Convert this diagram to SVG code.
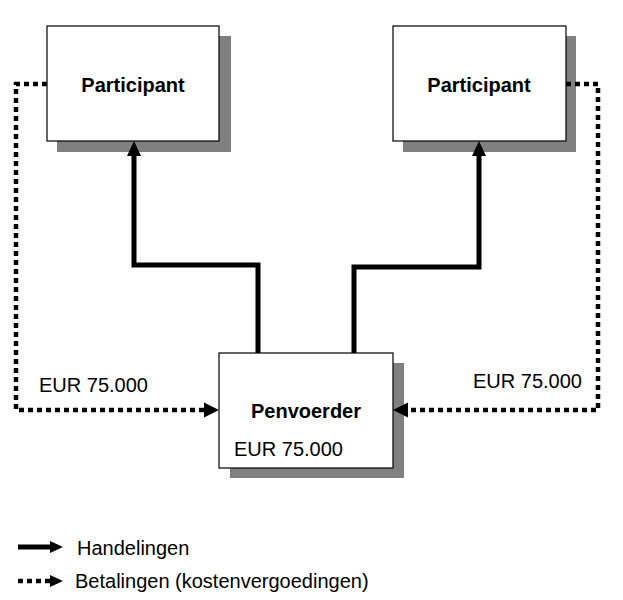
<svg xmlns="http://www.w3.org/2000/svg" width="623" height="600" viewBox="0 0 623 600">
<style>
.box{fill:#fff;stroke:#000;stroke-width:1.2}
.shadow{fill:#808080}
.bold{font-family:"Liberation Sans",Arial,sans-serif;font-weight:bold;font-size:20px;fill:#000}
.reg{font-family:"Liberation Sans",Arial,sans-serif;font-size:20px;fill:#000}
.solid{fill:none;stroke:#000;stroke-width:5;stroke-linejoin:miter}
.dot{fill:none;stroke:#000;stroke-width:4.5;stroke-dasharray:5 4}
</style>
<defs>
<marker id="ah" viewBox="0 0 10 10" refX="10" refY="5" markerWidth="15" markerHeight="15" markerUnits="userSpaceOnUse" orient="auto">
<path d="M0,0 L10,5 L0,10 Z" fill="#000"/>
</marker>
</defs>
<rect width="623" height="600" fill="#fff"/>
<g id="participant-left">
<rect class="shadow" x="57" y="36" width="174" height="116"/>
<rect class="box" x="47" y="26" width="172" height="115"/>
<text class="bold" x="133" y="92" text-anchor="middle">Participant</text>
</g>
<g id="participant-right">
<rect class="shadow" x="403" y="36" width="173" height="116"/>
<rect class="box" x="393" y="26" width="173" height="115"/>
<text class="bold" x="479" y="92" text-anchor="middle">Participant</text>
</g>
<g id="penvoerder">
<rect class="shadow" x="230" y="363" width="174" height="115"/>
<rect class="box" x="219" y="353" width="174" height="115"/>
<text class="bold" x="306" y="418" text-anchor="middle">Penvoerder</text>
<text class="reg" x="234" y="456">EUR 75.000</text>
</g>
<g id="connectors">
<path class="solid" d="M258,353 V265 H134 V156" />
<path d="M127,156 L134,141 L141,156 Z" fill="#000"/>
<path class="solid" d="M354,353 V267 H479 V156" />
<path d="M472,156 L479,141 L486,156 Z" fill="#000"/>
<path class="dot" d="M47,84 H16 V410 H204" />
<path d="M204,402.5 L219,410 L204,417.5 Z" fill="#000"/>
<path class="dot" d="M566,84 H598 V410 H408" />
<path d="M408,402.5 L393,410 L408,417.5 Z" fill="#000"/>
</g>
<g id="labels">
<text class="reg" x="39" y="392">EUR 75.000</text>
<text class="reg" x="473" y="388">EUR 75.000</text>
</g>
<g id="legend">
<path class="solid" d="M18,547 H51"/>
<path d="M50,541 L63,547 L50,553 Z" fill="#000"/>
<text class="reg" x="77" y="555">Handelingen</text>
<path class="dot" d="M18,581 H51"/>
<path d="M50,575 L63,581 L50,587 Z" fill="#000"/>
<text class="reg" x="75" y="588">Betalingen (kostenvergoedingen)</text>
</g>
</svg>
